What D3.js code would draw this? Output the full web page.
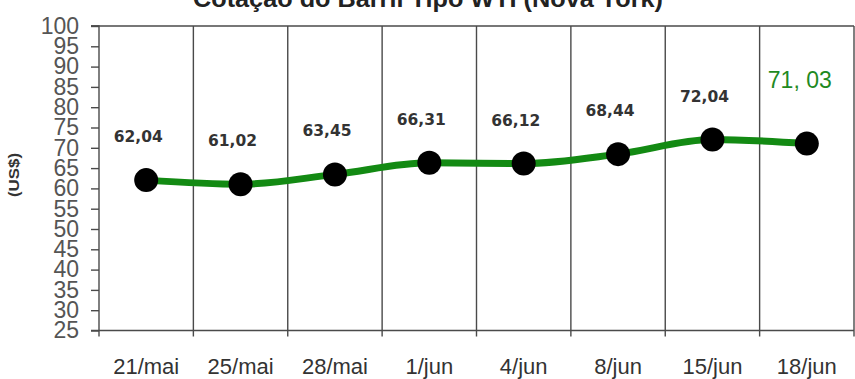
<!DOCTYPE html>
<html>
<head>
<meta charset="utf-8">
<script src="https://cdn.jsdelivr.net/npm/d3@7"></script>
<style>
  html, body { margin: 0; padding: 0; background: #fff; }
  svg { display: block; }
</style>
</head>
<body>
<svg id="chart" width="855" height="379"></svg>
<script>
const title = "Cotação do Barril Tipo WTI (Nova York)";
const yAxisLabel = "(US$)";
const categories = ["21/mai", "25/mai", "28/mai", "1/jun", "4/jun", "8/jun", "15/jun", "18/jun"];
const prices = [62.04, 61.02, 63.45, 66.31, 66.12, 68.44, 72.04, 71.03];
const priceLabels = ["62,04", "61,02", "63,45", "66,31", "66,12", "68,44", "72,04", "71, 03"];
const yTicks = [25, 30, 35, 40, 45, 50, 55, 60, 65, 70, 75, 80, 85, 90, 95, 100];

(function () {
const svg = d3.select("#chart");
const mLeft = 99, mRight = 854, mTop = 26, mBottom = 330.5;

const x = d3.scaleBand().domain(categories).range([mLeft, mRight]).padding(0);
const y = d3.scaleLinear().domain([25, 100]).range([mBottom, mTop]);

const gridColor = "#4a4a4a";
const sans = "Arial, 'Liberation Sans', sans-serif";

// title (partially clipped at top, as in the reference)
svg.append("text")
  .attr("x", 193).attr("y", 7)
  .attr("font-family", sans)
  .attr("font-size", 24)
  .attr("font-weight", "bold")
  .attr("fill", "#222")
  .attr("textLength", 470)
  .attr("lengthAdjust", "spacingAndGlyphs")
  .text(title);

// vertical grid lines at category boundaries (with small ticks below axis)
const bounds = categories.map(c => x(c) + x.bandwidth());
svg.append("g").selectAll("line").data(bounds).join("line")
  .attr("x1", d => d).attr("x2", d => d)
  .attr("y1", mTop).attr("y2", mBottom + 6)
  .attr("stroke", gridColor).attr("stroke-width", 1.4);

// top border
svg.append("line")
  .attr("x1", mLeft - 8).attr("x2", mRight)
  .attr("y1", mTop).attr("y2", mTop)
  .attr("stroke", gridColor).attr("stroke-width", 1.4);

// y axis
const yAxis = d3.axisLeft(y).tickValues(yTicks).tickSize(8).tickPadding(12).tickFormat(d3.format("d"));
const gy = svg.append("g").attr("transform", `translate(${mLeft},0)`).call(yAxis);
gy.select(".domain").attr("stroke", gridColor).attr("stroke-width", 1.4)
  .attr("d", `M-8,${mTop}H0V${mBottom + 6}`);
gy.selectAll(".tick line").attr("stroke", gridColor).attr("stroke-width", 1.4);
gy.selectAll(".tick text")
  .attr("font-family", sans)
  .attr("font-size", 23)
  .attr("fill", "#555");

// x axis
const xAxis = d3.axisBottom(x).tickSize(0).tickPadding(28);
const gx = svg.append("g").attr("transform", `translate(0,${mBottom})`).call(xAxis);
gx.select(".domain").attr("stroke", gridColor).attr("stroke-width", 1.4)
  .attr("d", `M${mLeft - 8},0H${mRight}`);
gx.selectAll(".tick text")
  .attr("font-family", sans)
  .attr("font-size", 22)
  .attr("fill", "#333");

// y axis title
svg.append("text")
  .attr("transform", "translate(19,175) rotate(-90)")
  .attr("text-anchor", "middle")
  .attr("font-family", sans)
  .attr("font-size", 14)
  .attr("font-weight", "bold")
  .attr("fill", "#333")
  .attr("textLength", 44)
  .attr("lengthAdjust", "spacingAndGlyphs")
  .text(yAxisLabel);

// data
const data = categories.map((c, i) => ({ c, v: prices[i], label: priceLabels[i] }));
const cx = d => x(d.c) + x.bandwidth() / 2;

const line = d3.line().x(cx).y(d => y(d.v)).curve(d3.curveMonotoneX);
svg.append("path").datum(data)
  .attr("d", line)
  .attr("fill", "none")
  .attr("stroke", "#138a13")
  .attr("stroke-width", 7)
  .attr("stroke-linejoin", "round");

svg.append("g").selectAll("circle").data(data).join("circle")
  .attr("cx", cx).attr("cy", d => y(d.v))
  .attr("r", 12)
  .attr("fill", "#000");

// value labels
const last = data.length - 1;
svg.append("g").selectAll("text").data(data).join("text")
  .attr("x", (d, i) => cx(d) - (i === last ? 7 : 8))
  .attr("y", (d, i) => y(d.v) - (i === last ? 56 : 38))
  .attr("text-anchor", "middle")
  .attr("font-family", (d, i) => i === last ? sans : "Tahoma, Verdana, 'DejaVu Sans', sans-serif")
  .attr("font-size", (d, i) => i === last ? 23 : 15.5)
  .attr("font-weight", (d, i) => i === last ? "normal" : "bold")
  .attr("fill", (d, i) => i === last ? "#1f8a1f" : "#333")
  .text(d => d.label);
})();
</script>
</body>
</html>
